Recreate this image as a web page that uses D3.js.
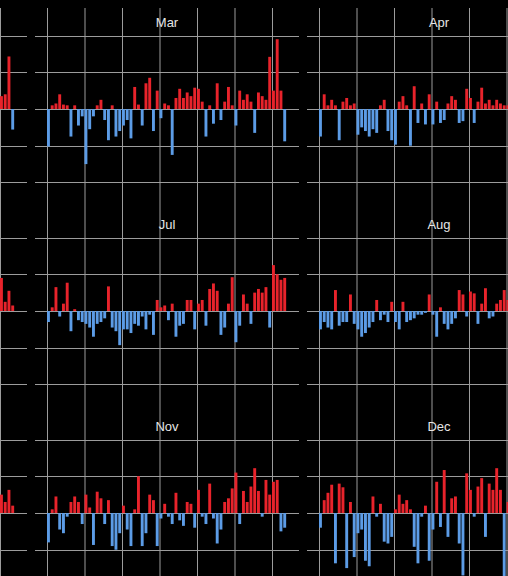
<!DOCTYPE html>
<html>
<head>
<meta charset="utf-8">
<script src="https://cdn.jsdelivr.net/npm/d3@7"></script>
<style>
  html, body { margin: 0; padding: 0; background: #000; }
  svg { display: block; }
</style>
</head>
<body>
<div id="chart"></div>
<script>
// ---- data: monthly anomaly per year (bars) ----
const years = d3.range(1950, 2014);          // 1950 … 2013
const gridYears = [1950, 1960, 1970, 1980, 1990, 2000, 2010];
const gridValues = [-2, -1, 0, 1, 2];

// partial panels (only the last years are visible)
const febYears = [2010, 2011, 2012, 2013];
const feb = [0.35, 0.4, 1.43, -0.56];
const junYears = [2010, 2011, 2012, 2013];
const jun = [0.9, 0.25, 0.55, 0.15];
const octYears = [2010, 2011, 2012, 2013];
const oct = [0.5, 0.3, 0.63, 0.2];

const mar = [
  -1.02, 0.1, 0.15, 0.4, 0.12, 0.1, -0.75, 0.1, -0.45, -0.2,
  -1.5, -0.55, -0.2, 0.1, 0.25, -0.3, -0.85, 0.1, -0.75, -0.6,
  -0.45, -0.3, -0.8, 0.6, 0.12, -0.45, 0.7, 0.85, -0.6, 0.5,
  -0.25, 0.15, 0.1, -1.25, 0.3, 0.55, 0.3, 0.45, 0.35, 0.58,
  0.55, 0.2, -0.75, 0.1, -0.4, 0.7, -0.3, 0.2, 0.6, 0.1,
  -0.45, 0.5, 0.25, 0.4, 0.2, -0.65, 0.45, 0.35, 0.25, 1.42,
  0.5, 1.9, 0.5, -0.88
];
const jul = [
  -0.3, 0.1, 0.65, -0.15, 0.2, 0.77, -0.55, 0.05, -0.25, -0.3,
  -0.35, -0.45, -0.7, -0.35, -0.3, -0.2, 0.67, -0.45, -0.55, -0.93,
  -0.5, -0.5, -0.6, -0.35, -0.4, -0.15, -0.5, -0.1, -0.65, 0.3,
  0.1, 0.15, -0.25, 0.2, -0.7, -0.4, -0.35, 0.3, 0.3, -0.5,
  0.2, 0.3, -0.4, 0.6, 0.75, 0.55, -0.65, -0.45, 0.2, 0.92,
  -0.85, -0.4, 0.45, 0.2, -0.35, 0.5, 0.6, 0.5, 0.65, -0.45,
  1.25, 1.0, 0.85, 0.9
];
const nov = [
  -0.8, 0.1, 0.45, -0.45, -0.55, -0.1, 0.3, 0.45, 0.3, -0.3,
  0.5, 0.15, -0.87, 0.58, 0.4, -0.3, 0.35, -0.9, -1.0, -0.55,
  0.2, -0.45, -0.9, 0.1, 1.0, -0.9, -0.55, 0.5, 0.35, -0.9,
  -0.15, 0.25, -0.1, -0.3, 0.55, -0.2, -0.35, 0.3, 0.25, -0.4,
  0.63, -0.1, -0.3, 0.8, -0.15, -0.83, -0.45, 0.3, 0.4, 0.67,
  1.1, -0.3, 0.6, 0.3, 0.72, 1.22, 0.6, -0.1, 0.9, 0.5,
  0.85, 0.9, -0.5, -0.4
];
// right column: visible years 1950 … 2000
const apr = [
  -0.75, 0.4, 0.1, 0.25, 0.1, -0.85, 0.2, 0.3, 0.1, 0.15,
  -0.7, -0.5, -0.6, -0.75, -0.55, -0.65, 0.1, 0.25, -0.6, -0.85,
  -0.97, 0.2, 0.35, 0.1, -1.0, 0.62, -0.38, 0.15, -0.42, 0.4,
  -0.42, 0.2, -0.38, -0.3, 0.15, 0.35, 0.25, -0.38, -0.33, 0.55,
  0.3, -0.38, 0.2, 0.58, 0.15, 0.25, 0.1, 0.25, 0.15, 0.1,
  0.1
];
const aug = [
  -0.5, -0.3, -0.45, -0.5, 0.57, -0.4, -0.3, -0.3, 0.45, -0.35,
  -0.5, -0.7, -0.6, -0.45, -0.3, 0.3, -0.25, -0.1, -0.3, 0.25,
  -0.3, -0.5, 0.25, -0.3, -0.25, -0.2, -0.1, -0.1, -0.05, 0.45,
  -0.1, -0.7, 0.1, -0.35, -0.5, -0.35, -0.2, 0.57, 0.45, -0.15,
  0.53, 0.48, -0.35, 0.2, 0.62, -0.2, -0.15, 0.2, 0.3, 0.57,
  0.3
];
const dec = [
  -0.4, 0.35, 0.55, 0.77, -1.37, 0.8, 0.7, -1.5, 0.3, -1.2,
  -0.55, -0.45, -1.3, -1.45, 0.45, -0.1, 0.25, -0.78, -0.83, -0.65,
  0.1, 0.5, 0.25, 0.35, 0.1, -0.92, -1.37, -0.1, 0.2, -1.3,
  -0.45, 0.85, -0.38, 1.17, -0.65, 0.4, 0.45, -0.83, -1.7, 1.08,
  0.63, -0.1, 0.72, 0.95, -0.65, 0.8, 0.63, 1.22, 0.63, -1.75,
  0.3
];

// month titles of the partial (left) panels lie outside the picture,
// so they are not drawn (showTitle: false)
const panels = [
  { name: "Feb", col: 0, row: 0, yrs: febYears, vals: feb, showTitle: false },
  { name: "Mar", col: 1, row: 0, yrs: years, vals: mar, showTitle: true },
  { name: "Apr", col: 2, row: 0, yrs: years, vals: apr, showTitle: true },
  { name: "Jun", col: 0, row: 1, yrs: junYears, vals: jun, showTitle: false },
  { name: "Jul", col: 1, row: 1, yrs: years, vals: jul, showTitle: true },
  { name: "Aug", col: 2, row: 1, yrs: years, vals: aug, showTitle: true },
  { name: "Oct", col: 0, row: 2, yrs: octYears, vals: oct, showTitle: false },
  { name: "Nov", col: 1, row: 2, yrs: years, vals: nov, showTitle: true },
  { name: "Dec", col: 2, row: 2, yrs: years, vals: dec, showTitle: true }
];

// ---- layout ----
const W = 508, H = 576;
const panelW = 264, panelH = 202;
const colX = [-237, 35, 307];
const rowTop = [8, 210, 412];

const svg = d3.select("#chart").append("svg")
  .attr("width", W).attr("height", H)
  .style("background", "#000");

const x = d3.scaleLinear().domain([1950, 2010]).range([12, 237]);
const y = d3.scaleLinear().domain([-2.75, 2.75]).range([panelH, 0]);
const barW = 2.9;

panels.forEach(p => {
  const g = svg.append("g")
    .attr("transform", `translate(${colX[p.col]},${rowTop[p.row]})`);

  // vertical grid (decades)
  g.selectAll("line.v").data(gridYears).join("line")
    .attr("class", "v")
    .attr("x1", d => x(d) + 0.5).attr("x2", d => x(d) + 0.5)
    .attr("y1", 0).attr("y2", panelH)
    .attr("stroke", "#9c9c9c").attr("stroke-width", 1);

  // horizontal grid
  g.selectAll("line.h").data(gridValues).join("line")
    .attr("class", "h")
    .attr("x1", 0).attr("x2", panelW)
    .attr("y1", d => Math.round(y(d)) + 0.5).attr("y2", d => Math.round(y(d)) + 0.5)
    .attr("stroke", "#9c9c9c").attr("stroke-width", 1);

  // bars
  const data = p.vals.map((v, i) => ({ year: p.yrs[i], v }));
  g.selectAll("rect").data(data).join("rect")
    .attr("x", d => x(d.year))
    .attr("width", barW)
    .attr("y", d => d.v >= 0 ? y(d.v) : y(0))
    .attr("height", d => Math.abs(y(d.v) - y(0)))
    .attr("fill", d => d.v >= 0 ? "#e8232b" : "#5c9ce6");

  // month title
  if (p.showTitle) {
    g.append("text")
      .attr("x", panelW / 2)
      .attr("y", y(0) - 82.5)
      .attr("text-anchor", "middle")
      .attr("font-family", "Liberation Sans, Arial, sans-serif")
      .attr("font-size", 13)
      .attr("fill", "#e6e6e6")
      .text(p.name);
  }
});
</script>
</body>
</html>
